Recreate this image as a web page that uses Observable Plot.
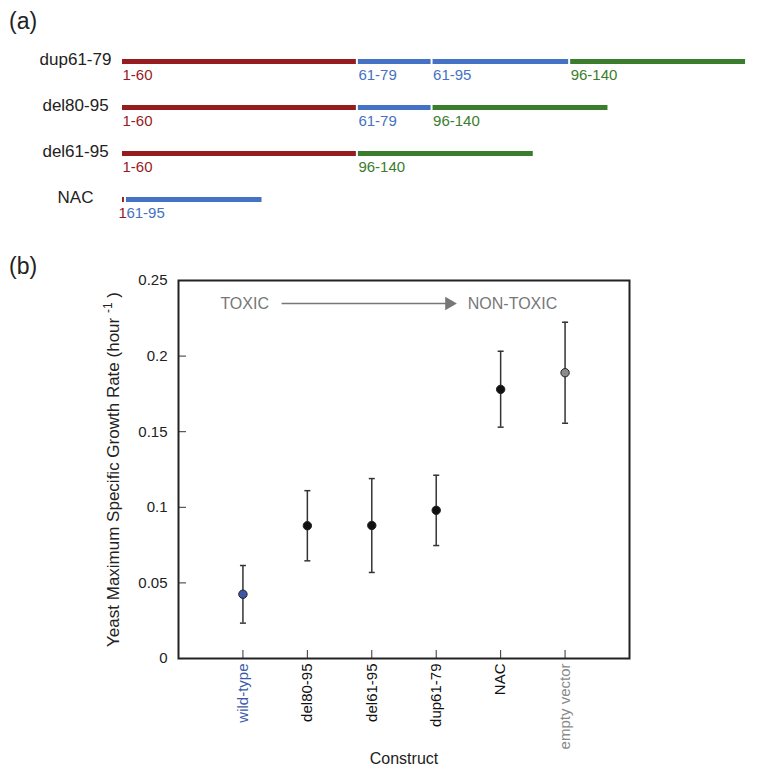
<!DOCTYPE html>
<html>
<head>
<meta charset="utf-8">
<script src="https://cdn.jsdelivr.net/npm/d3@7"></script>
<script src="https://cdn.jsdelivr.net/npm/@observablehq/plot@0.6"></script>
<style>
  html, body { margin: 0; padding: 0; background: #fff; }
  #wrap { position: relative; width: 762px; height: 774px; font-family: "Liberation Sans", Arial, Helvetica, sans-serif; color: #222; }
  .panel { position: absolute; left: 9px; font-size: 23px; line-height: 1; color: #222; }
  svg { display: block; }
</style>
</head>
<body>
<div id="wrap">
  <div id="a"></div>
  <div id="b"></div>
  <div class="panel" style="top:10px">(a)</div>
  <div class="panel" style="top:255px">(b)</div>
</div>
<script>
// ---------- Panel (a): construct maps ----------
const constructs = ["dup61-79", "del80-95", "del61-95", "NAC"];
const segFrom = [[1, 61, 61, 96], [1, 61, 96], [1, 96], [1, 61]];
const segTo   = [[60, 79, 95, 140], [60, 79, 140], [60, 140], [1, 95]];
const regionStarts = [1, 61, 96];
const regionColors = ["#951c1f", "#4472c4", "#3a7d2c"];

// ---------- Panel (b): growth rates ----------
const labels = ["wild-type", "del80-95", "del61-95", "dup61-79", "NAC", "empty vector"];
const mean  = [0.0425, 0.0878, 0.088, 0.098, 0.178, 0.189];
const lower = [0.0234, 0.0646, 0.0569, 0.0747, 0.153, 0.1556];
const upper = [0.0615, 0.111, 0.119, 0.1212, 0.2032, 0.2224];
const pointFill = ["#3d57a8", "#111", "#111", "#111", "#111", "#8c8c8c"];
const labelFill = ["#3d5aa8", "#111", "#111", "#111", "#111", "#8a8a8a"];
const yTicks = [0, 0.05, 0.1, 0.15, 0.2, 0.25];
const annotText = ["TOXIC", "NON-TOXIC"];
const annotX = [0.65, 4.49];
const annotY = 0.2348;
const arrowX = [1.6, 4.2];

// build segments table
const segs = [];
constructs.forEach((c, i) => {
  let off = 0;
  segFrom[i].forEach((f, j) => {
    const t = segTo[i][j];
    const len = t - f + 1;
    segs.push({construct: c, x1: off, x2: off + len, region: f, label: f === t ? `${f}` : `${f}-${t}`, single: f === t});
    off += len;
  });
});

const plotA = Plot.plot({
  width: 762, height: 250,
  marginLeft: 121, marginRight: 12, marginTop: 0, marginBottom: 0,
  x: {domain: [0, 160], axis: null},
  y: {type: "point", domain: constructs, range: [60, 199], padding: 0, axis: null},
  color: {domain: regionStarts, range: regionColors, type: "ordinal"},
  style: {fontFamily: "Liberation Sans, Arial, sans-serif", color: "#222", background: "transparent"},
  marks: [
    Plot.ruleY(segs, {y: "construct", x1: "x1", x2: "x2", stroke: "region", strokeWidth: 5, insetLeft: 1, insetRight: 1}),
    Plot.text(segs.filter(d => !d.single), {x: "x1", y: "construct", text: "label", fill: "region", textAnchor: "start", lineAnchor: "middle", dx: 1, dy: 14, fontSize: 15}),
    Plot.text(segs.filter(d => d.single), {x: "x1", y: "construct", text: "label", fill: "region", textAnchor: "start", lineAnchor: "middle", dx: -3, dy: 14, fontSize: 15}),
    Plot.text(constructs, {x: 0, y: d => d, text: d => d, textAnchor: "middle", lineAnchor: "middle", dx: -46, dy: -2, fontSize: 17, fill: "#222"})
  ]
});
document.getElementById("a").appendChild(plotA);

// ---------- Panel (b) ----------
const data = labels.map((l, i) => ({name: l, x: i + 1, mean: mean[i], lo: lower[i], hi: upper[i], fill: pointFill[i]}));
const capSymbol = {draw(ctx, size) { const w = Math.sqrt(size / Math.PI); ctx.moveTo(-w, 0); ctx.lineTo(w, 0); }};
const annot = annotText.map((t, i) => ({text: t, x: annotX[i], y: annotY}));

const plotB = Plot.plot({
  width: 762, height: 524,
  marginLeft: 178, marginRight: 133, marginTop: 30, marginBottom: 116,
  x: {domain: [0, 7]},
  y: {domain: [0, 0.25]},
  style: {fontFamily: "Liberation Sans, Arial, sans-serif", color: "#222", background: "transparent"},
  marks: [
    Plot.axisY({ticks: yTicks, tickFormat: d3.format("~g"), tickSize: -8, tickPadding: 19, fontSize: 15, label: null, stroke: "#333"}),
    Plot.axisX({ticks: data.map(d => d.x), tickFormat: i => labels[i - 1], tickRotate: -90, tickSize: -8, tickPadding: 13, fontSize: 15, label: null, stroke: "#333"}),
    Plot.frame({stroke: "#222", strokeWidth: 2}),
    Plot.ruleX(data, {x: "x", y1: "lo", y2: "hi", stroke: "#333", strokeWidth: 1.5}),
    Plot.dot(data, {x: "x", y: "lo", symbol: capSymbol, r: 3, fill: "none", stroke: "#333", strokeWidth: 1.5}),
    Plot.dot(data, {x: "x", y: "hi", symbol: capSymbol, r: 3, fill: "none", stroke: "#333", strokeWidth: 1.5}),
    Plot.dot(data, {x: "x", y: "mean", r: 4.2, fill: "fill", stroke: "#222", strokeWidth: 1}),
    Plot.text(annot, {x: "x", y: "y", text: "text", textAnchor: "start", lineAnchor: "middle", fill: "#777", fontSize: 16}),
    Plot.link([0], {x1: arrowX[0], x2: arrowX[1], y1: annotY, y2: annotY, stroke: "#777", strokeWidth: 1.5}),
    Plot.dot([0], {x: arrowX[1], y: annotY, symbol: "triangle", rotate: 90, r: 5, fill: "#777", stroke: "none"}),
    Plot.text(["Construct"], {frameAnchor: "bottom", dy: 100, text: d => d, fontSize: 16, lineAnchor: "middle", textAnchor: "middle", fill: "#222"}),
    Plot.text(["Yeast Maximum Specific Growth Rate (hour"], {frameAnchor: "left", dx: -65, rotate: -90, text: d => d, fontSize: 17, lineAnchor: "middle", textAnchor: "middle", fill: "#222"})
  ]
});
document.getElementById("b").appendChild(plotB);

// colour x tick labels
d3.select(plotB).selectAll('g[aria-label="x-axis tick label"] text').each(function() {
  const i = labels.indexOf(this.textContent);
  if (i >= 0) d3.select(this).attr("fill", labelFill[i]);
});
// superscript in y label
d3.select(plotB).selectAll("text").filter(function() { return this.textContent.startsWith("Yeast Maximum"); }).each(function() {
  const t = d3.select(this);
  t.append("tspan").text(" ");
  t.append("tspan").attr("baseline-shift", "super").attr("font-size", "70%").text("-1");
  t.append("tspan").text(" )");
});
</script>
</body>
</html>
